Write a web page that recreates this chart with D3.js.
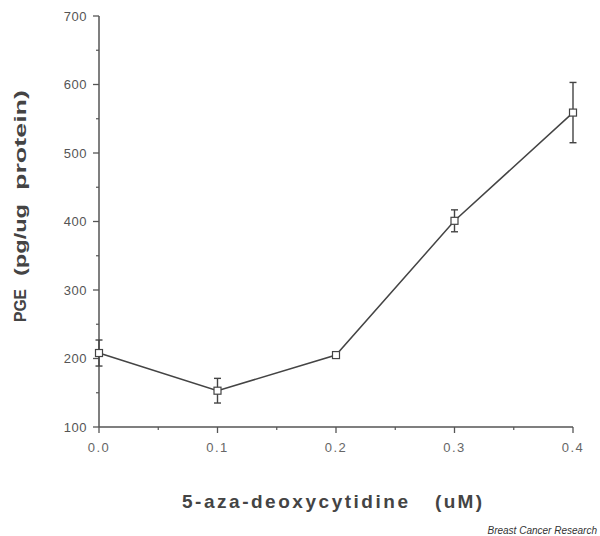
<!DOCTYPE html>
<html>
<head>
<meta charset="utf-8">
<script src="https://cdn.jsdelivr.net/npm/d3@7"></script>
<style>
  body { margin: 0; background: #fff; }
  svg { display: block; font-family: "Liberation Sans", Arial, sans-serif; }
</style>
</head>
<body>
<div id="chart"></div>
<script>
// dosis de 5-aza-deoxicitidina vs PGE
const doses = [0.0, 0.1, 0.2, 0.3, 0.4];
const pge = [208, 153, 205, 401, 559];
const pgeErr = [19, 18, 2, 16, 44];
const xTicks = [0.0, 0.1, 0.2, 0.3, 0.4];
const xMinor = [0.05, 0.15, 0.25, 0.35];
const yTicks = [100, 200, 300, 400, 500, 600, 700];
const yMinor = [150, 250, 350, 450, 550, 650];

const width = 600, height = 536;
const svg = d3.select('#chart').append('svg').attr('width', width).attr('height', height);

const x = d3.scaleLinear().domain([0, 0.4]).range([99, 573]);
const y = d3.scaleLinear().domain([100, 700]).range([427, 16]);

const axisColor = '#555';

// eje y
svg.append('line').attr('x1', x(0)).attr('x2', x(0)).attr('y1', y(100)).attr('y2', y(700))
    .attr('stroke', axisColor).attr('stroke-width', 1.5);
yTicks.forEach(v => {
    svg.append('line').attr('x1', x(0) - 6).attr('x2', x(0)).attr('y1', y(v)).attr('y2', y(v))
        .attr('stroke', axisColor).attr('stroke-width', 1.3);
    svg.append('text').attr('x', x(0) - 12).attr('y', y(v) + 4.5).attr('text-anchor', 'end')
        .attr('font-size', 13).attr('fill', '#555').attr('letter-spacing', 0.5).text(v);
});
yMinor.forEach(v => {
    svg.append('line').attr('x1', x(0) - 3).attr('x2', x(0)).attr('y1', y(v)).attr('y2', y(v))
        .attr('stroke', axisColor).attr('stroke-width', 1.2);
});

// eje x
svg.append('line').attr('x1', x(0)).attr('x2', x(0.4)).attr('y1', y(100)).attr('y2', y(100))
    .attr('stroke', axisColor).attr('stroke-width', 1.5);
xTicks.forEach(v => {
    svg.append('line').attr('x1', x(v)).attr('x2', x(v)).attr('y1', y(100)).attr('y2', y(100) + 6)
        .attr('stroke', axisColor).attr('stroke-width', 1.3);
    svg.append('text').attr('x', x(v)).attr('y', y(100) + 25).attr('text-anchor', 'middle')
        .attr('font-size', 13).attr('fill', '#666').attr('letter-spacing', 1.5).text(d3.format('.1f')(v));
});
xMinor.forEach(v => {
    svg.append('line').attr('x1', x(v)).attr('x2', x(v)).attr('y1', y(100)).attr('y2', y(100) + 3)
        .attr('stroke', axisColor).attr('stroke-width', 1.2);
});

// barras de error
const errG = svg.append('g').attr('stroke', '#444').attr('stroke-width', 1.4);
doses.forEach((d, i) => {
    const cx = x(d), top = y(pge[i] + pgeErr[i]), bot = y(pge[i] - pgeErr[i]);
    errG.append('line').attr('x1', cx).attr('x2', cx).attr('y1', top).attr('y2', bot);
    errG.append('line').attr('x1', cx - 3.5).attr('x2', cx + 3.5).attr('y1', top).attr('y2', top);
    errG.append('line').attr('x1', cx - 3.5).attr('x2', cx + 3.5).attr('y1', bot).attr('y2', bot);
});

// linea
const line = d3.line().x(d => x(d)).y((d, i) => y(pge[i]));
svg.append('path').datum(doses).attr('d', line).attr('fill', 'none')
    .attr('stroke', '#444').attr('stroke-width', 1.5);

// marcadores cuadrados
svg.selectAll('.pt').data(doses).enter().append('rect')
    .attr('x', d => x(d) - 3.5).attr('y', (d, i) => y(pge[i]) - 3.5)
    .attr('width', 7).attr('height', 7).attr('fill', '#fff')
    .attr('stroke', '#444').attr('stroke-width', 1.2);

// titulo eje x (por partes, para imitar el espaciado)
const titleStyle = (sel, fs) => sel.attr('font-size', fs).attr('font-weight', 'bold').attr('fill', '#444');
titleStyle(svg.append('text').attr('x', 182).attr('y', 508)
    .attr('textLength', 226).attr('lengthAdjust', 'spacing').text('5-aza-deoxycytidine'), 19);
titleStyle(svg.append('text').attr('x', 435).attr('y', 508)
    .attr('textLength', 47).attr('lengthAdjust', 'spacing').text('(uM)'), 19);

// titulo eje y, tres palabras estiradas como en el original
const yt = svg.append('g').attr('transform', 'translate(26,0) rotate(-90)');
[['PGE', 322, 33], ['(pg/ug', 276, 72], ['protein)', 190, 100]].forEach(([t, start, len]) => {
    titleStyle(yt.append('text').attr('x', -start).attr('y', 0)
        .attr('textLength', len).attr('lengthAdjust', 'spacingAndGlyphs').text(t), 17);
});

svg.append('text').attr('x', 597).attr('y', 534).attr('text-anchor', 'end')
    .attr('font-size', 10).attr('font-style', 'italic').attr('fill', '#333')
    .text('Breast Cancer Research');
</script>
</body>
</html>
